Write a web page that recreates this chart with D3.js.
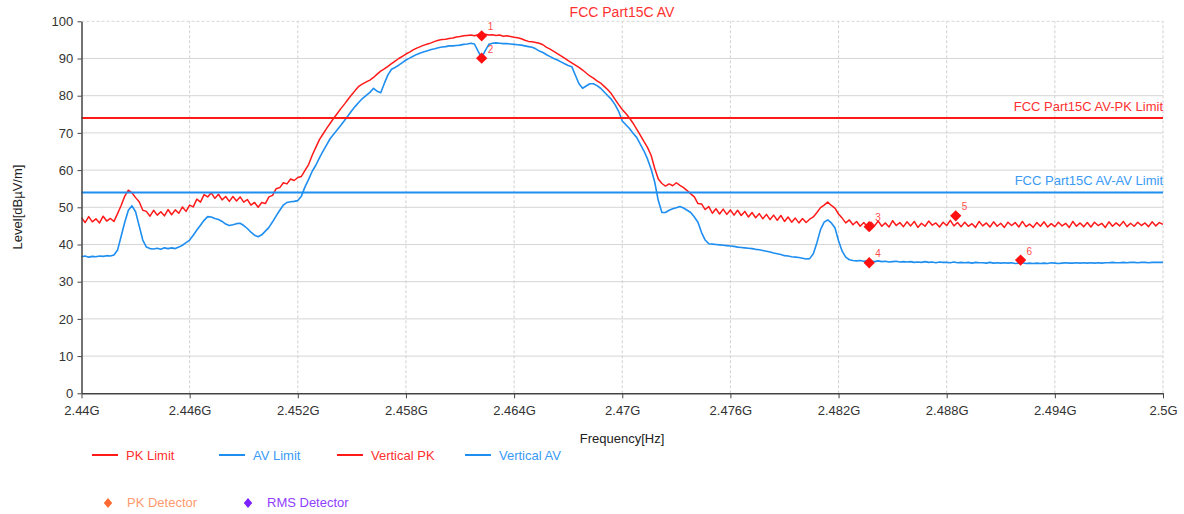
<!DOCTYPE html>
<html><head><meta charset="utf-8">
<script src="https://cdn.jsdelivr.net/npm/d3@7"></script>
<style>
body{margin:0;background:#fff}
svg{display:block}
text{font-family:"Liberation Sans",Arial,sans-serif}
</style>
</head><body>
<svg id="c" width="1184" height="514"></svg>
<script>
// ---- data (frequency in MHz, level in dBµV/m) ----
const freqStart = 2440, freqStep = 0.2;
const verticalPK = [
 47.2,45.9,47.5,46.1,46.9, 45.8,47.6,46.3,47.0,46.2, 48.3,50.5,53.0,54.6,53.9, 52.6,51.5,49.2,48.9,47.6,
 49.2,47.9,48.8,47.7,49.4, 48.0,49.3,48.4,50.1,48.9, 50.6,50.1,52.2,51.4,53.4, 52.8,53.9,52.4,53.5,52.0,
 52.9,51.6,52.9,51.7,52.8, 51.4,52.1,50.6,51.3,50.0, 51.3,51.0,52.8,53.2,55.0, 55.3,56.6,56.3,57.6,57.2,
 58.0,58.3,59.9,61.5,64.0, 66.1,68.2,69.7,71.2,72.6, 74.0,75.3,76.6,77.8,79.1, 80.3,81.5,82.6,83.2,83.7,
 84.2,84.9,85.8,86.6,87.2, 87.9,88.6,89.3,90.0,90.6, 91.2,91.7,92.3,92.8,93.2, 93.6,93.9,94.2,94.6,94.9,
 95.1,95.2,95.4,95.5,95.8, 95.9,96.1,96.2,96.3,96.1, 96.4,96.1,96.5,96.3,96.4, 96.2,96.3,96.0,96.1,95.9,
 95.7,95.6,95.3,94.9,94.6, 94.5,94.3,94.1,93.7,93.0, 92.5,91.9,91.3,90.7,90.1, 89.4,88.8,88.2,87.6,86.9,
 86.1,85.3,84.7,84.0,83.4, 82.5,81.6,80.5,79.0,77.6, 76.3,75.2,74.0,72.6,71.0, 69.4,67.7,66.1,64.0,60.5,
 57.6,56.4,55.7,56.3,55.8, 56.6,55.9,55.3,54.5,53.6, 52.8,51.0,50.9,49.4,50.2, 48.4,49.6,48.2,49.5,48.1,
 49.3,47.9,49.2,47.8,48.9, 47.4,48.6,47.2,48.3,46.9, 48.1,46.7,47.9,46.5,47.8, 46.2,47.4,46.0,47.1,45.8,
 47.0,45.9,46.8,47.4,48.6, 49.9,50.6,51.4,50.5,49.8, 48.2,47.1,45.8,46.6,45.3, 46.2,44.9,45.9,44.8,46.0,
 45.0,46.3,44.9,45.8,44.7, 46.4,45.1,45.9,44.8,46.1, 45.0,46.2,44.6,45.7,44.9, 46.3,45.2,45.8,44.7,46.0,
 45.1,46.5,45.0,45.9,44.8, 46.0,44.9,45.6,44.6,46.2, 45.0,45.8,44.7,46.1,44.9, 45.7,44.6,46.0,45.1,45.9,
 44.7,46.2,44.8,45.5,44.6, 45.9,44.9,46.1,44.7,45.6, 44.8,46.0,45.0,45.7,44.6, 46.2,44.9,45.8,44.8,45.9,
 44.7,46.0,45.1,45.7,44.6, 46.1,44.9,45.8,45.0,46.2, 44.8,45.7,44.9,46.0,45.1, 45.8,44.8,46.1,45.0,45.9,
 45.4
];
const verticalAV = [
 36.7,36.9,36.6,36.8,36.7, 36.9,36.8,37.0,36.9,37.2, 38.5,42.2,46.0,49.2,50.4, 48.8,45.0,41.2,39.3,38.9,
 38.8,39.0,38.7,39.1,38.9, 39.1,38.9,39.3,39.8,40.5, 41.2,42.5,43.9,45.2,46.5, 47.5,47.4,47.0,46.7,46.2,
 45.5,45.1,45.3,45.6,45.7, 45.1,44.3,43.3,42.5,42.1, 42.6,43.6,44.6,46.1,47.7, 49.2,50.6,51.3,51.5,51.6,
 51.8,53.0,55.5,57.5,59.7, 61.3,63.3,65.1,66.8,68.5, 69.7,70.9,72.1,73.4,74.7, 76.0,77.2,78.3,79.3,80.1,
 80.9,82.0,81.2,80.8,83.3, 85.6,87.1,87.6,88.2,88.9, 89.6,90.1,90.6,91.1,91.5, 91.8,92.1,92.4,92.6,92.9,
 93.1,93.2,93.4,93.4,93.5, 93.6,93.8,93.9,94.1,93.9, 92.0,90.2,92.1,93.8,94.1, 94.2,94.1,94.0,94.0,93.9,
 93.8,93.7,93.6,93.4,93.2, 93.0,92.6,92.0,91.6,91.0, 90.5,90.0,89.6,89.1,88.6, 88.1,87.8,85.5,83.2,82.0,
 82.6,83.2,83.2,82.7,82.0, 81.0,80.0,79.0,77.6,75.8, 73.2,72.2,71.2,69.9,68.8, 67.0,65.2,63.0,60.3,56.8,
 51.8,48.6,48.6,49.2,49.6, 49.9,50.2,49.8,49.2,48.6, 47.4,46.0,43.2,41.2,40.2, 40.1,40.0,39.9,39.8,39.7,
 39.6,39.5,39.3,39.2,39.1, 39.0,38.9,38.7,38.6,38.4, 38.2,38.0,37.7,37.5,37.3, 37.0,36.9,36.7,36.6,36.5,
 36.3,36.1,36.2,37.5,40.5, 44.0,46.0,46.6,45.8,44.5, 41.0,38.2,36.6,35.9,35.7, 35.6,35.7,35.5,35.6,35.5,
 35.4,35.6,35.4,35.5,35.3, 35.4,35.5,35.3,35.4,35.3, 35.4,35.2,35.3,35.2,35.4, 35.2,35.3,35.1,35.3,35.2,
 35.2,35.1,35.3,35.1,35.2, 35.1,35.2,35.0,35.2,35.1, 35.1,35.0,35.2,35.0,35.1, 35.0,35.1,35.0,35.1,34.9,
 35.0,35.1,34.9,35.0,34.9, 35.0,34.9,35.0,34.9,35.1, 35.0,34.9,35.0,35.1,35.0, 35.0,35.1,35.0,35.1,35.0,
 35.1,35.0,35.1,35.0,35.1, 35.1,35.2,35.1,35.1,35.2, 35.1,35.2,35.2,35.1,35.2, 35.2,35.1,35.2,35.2,35.2,
 35.2
];
const pkLimit = 74;
const avLimit = 54;
const xTicks = [2440,2446,2452,2458,2464,2470,2476,2482,2488,2494,2500];
const xTickLabels = ["2.44G","2.446G","2.452G","2.458G","2.464G","2.47G","2.476G","2.482G","2.488G","2.494G","2.5G"];
const yTicks = [0,10,20,30,40,50,60,70,80,90,100];
const markerFreq  = [2462.2, 2462.2, 2483.7, 2483.7, 2488.5, 2492.1];
const markerLevel = [96.1, 90.1, 44.8, 35.1, 47.7, 35.8];
const markerLabels = ["1","2","3","4","5","6"];
const lineLegend = ["PK Limit","AV Limit","Vertical PK","Vertical AV"];
const detectorLegend = ["PK Detector","RMS Detector"];

// ---- styles ----
const RED = "#ff1a1a", BLUE = "#1e8ef0";
const lineLegendColors = [RED, BLUE, RED, BLUE];
const lineLegendText = ["#ff3030", "#3a9af5", "#ff3030", "#3a9af5"];
const detColors = ["#ff6a33", "#7a1fff"], detText = ["#ff9a70", "#9040ff"];

const svg = d3.select("#c");
const x = d3.scaleLinear([2440, 2500], [81.5, 1163]);
const y = d3.scaleLinear([0, 100], [393.3, 21.3]);

// grid
const grid = svg.append("g");
grid.selectAll(".gy").data(yTicks.slice(1)).join("line")
  .attr("x1", x(2440)).attr("x2", x(2500)).attr("y1", d => y(d)).attr("y2", d => y(d))
  .attr("stroke", "#d6d6d6").attr("stroke-width", 1).attr("stroke-dasharray", d => d === 100 ? "3,2" : null);
grid.selectAll(".gx").data(xTicks.slice(1)).join("line")
  .attr("x1", d => x(d)).attr("x2", d => x(d)).attr("y1", y(0)).attr("y2", y(100))
  .attr("stroke", "#d0d0d0").attr("stroke-width", 1).attr("stroke-dasharray", "3,2");

// traces
const pts = arr => arr.map((v, i) => [freqStart + i * freqStep, v]);
const line = d3.line().x(d => x(d[0])).y(d => y(d[1]));
svg.append("path").datum(pts(verticalPK)).attr("d", line)
  .attr("fill", "none").attr("stroke", RED).attr("stroke-width", 1.5).attr("stroke-linejoin", "round");
svg.append("path").datum(pts(verticalAV)).attr("d", line)
  .attr("fill", "none").attr("stroke", BLUE).attr("stroke-width", 1.6).attr("stroke-linejoin", "round");

// limit lines
svg.append("line").attr("x1", x(2440)).attr("x2", x(2500)).attr("y1", y(pkLimit)).attr("y2", y(pkLimit))
  .attr("stroke", RED).attr("stroke-width", 2);
svg.append("line").attr("x1", x(2440)).attr("x2", x(2500)).attr("y1", y(avLimit)).attr("y2", y(avLimit))
  .attr("stroke", BLUE).attr("stroke-width", 2);
svg.append("text").attr("x", x(2500)).attr("y", y(pkLimit) - 7).attr("text-anchor", "end")
  .attr("font-size", 13).attr("fill", "#ff3030").text("FCC Part15C AV-PK Limit");
svg.append("text").attr("x", x(2500)).attr("y", y(avLimit) - 7).attr("text-anchor", "end")
  .attr("font-size", 13).attr("fill", "#3a9af5").text("FCC Part15C AV-AV Limit");

// axes
const ax = svg.append("g").attr("transform", `translate(0,${y(0)})`)
  .call(d3.axisBottom(x).tickValues(xTicks).tickFormat((d, i) => xTickLabels[i]).tickSize(5).tickSizeOuter(0));
const ay = svg.append("g").attr("transform", `translate(${x(2440)},0)`)
  .call(d3.axisLeft(y).tickValues(yTicks).tickSize(4).tickSizeOuter(0));
[ax, ay].forEach(g => {
  g.select(".domain").attr("stroke", "#444").attr("stroke-width", 1.5);
  g.selectAll(".tick line").attr("stroke", "#444");
  g.selectAll(".tick text").attr("fill", "#333").attr("font-size", 13)
    .attr("font-family", "'Liberation Sans',Arial,sans-serif");
});
ax.selectAll(".tick text").attr("dy", "1.05em");
ay.selectAll(".tick text").attr("dx", "-0.1em");

// markers
const diamond = d3.symbol(d3.symbolSquare, 64)();
const mk = svg.append("g");
markerFreq.forEach((f, i) => {
  mk.append("path").attr("d", diamond)
    .attr("transform", `translate(${x(f)},${y(markerLevel[i])}) rotate(45)`).attr("fill", "#ff1010");
  mk.append("text").attr("x", x(f) + 6).attr("y", y(markerLevel[i]) - 5.5)
    .attr("font-size", 10).attr("fill", "#ff4d4d").text(markerLabels[i]);
});

// titles
svg.append("text").attr("x", 622).attr("y", 17).attr("text-anchor", "middle")
  .attr("font-size", 14).attr("fill", "#ff3030").text("FCC Part15C AV");
svg.append("text").attr("x", 622).attr("y", 443).attr("text-anchor", "middle")
  .attr("font-size", 13).attr("fill", "#222").text("Frequency[Hz]");
svg.append("text").attr("transform", "translate(22,207) rotate(-90)").attr("text-anchor", "middle")
  .attr("font-size", 13).attr("fill", "#222").text("Level[dBµV/m]");

// legend row 1
const lx = [92, 219, 337, 465];
const lg = svg.append("g");
lineLegend.forEach((t, i) => {
  lg.append("line").attr("x1", lx[i]).attr("x2", lx[i] + 26).attr("y1", 455).attr("y2", 455)
    .attr("stroke", lineLegendColors[i]).attr("stroke-width", 2);
  lg.append("text").attr("x", lx[i] + 34).attr("y", 460).attr("font-size", 13)
    .attr("fill", lineLegendText[i]).text(t);
});
// legend row 2
const dx = [108, 248];
detectorLegend.forEach((t, i) => {
  lg.append("path").attr("d", "M0,-5L4.2,0L0,5L-4.2,0Z").attr("transform", `translate(${dx[i]},503)`).attr("fill", detColors[i]);
  lg.append("text").attr("x", dx[i] + 19).attr("y", 507).attr("font-size", 13).attr("fill", detText[i]).text(t);
});
</script>
</body></html>
